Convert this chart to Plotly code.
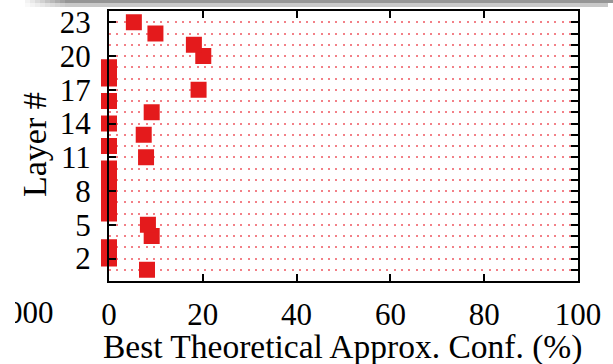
import plotly.graph_objects as go

layers = list(range(1, 24))
conf = [8.1, 0, 0, 9.1, 8.3, 0, 0, 0, 0, 0, 7.9, 0, 7.4, 0, 9.1, 0,
        19.1, 0, 0, 20.1, 18.1, 9.9, 5.3]
x_ticks = [0, 20, 40, 60, 80, 100]
y_label_ticks = [2, 5, 8, 11, 14, 17, 20, 23]
x_title = "Best Theoretical Approx. Conf. (%)"
y_title = "Layer #"
stray_label = "000"

W, H = 613, 364
FONT = "Liberation Serif"
RED = "#e41a1c"

def px_x(p):
    return p / W

def px_y(p):
    return 1 - p / H

fig = go.Figure()
fig.add_trace(go.Scatter(
    x=conf, y=layers, mode="markers", cliponaxis=False,
    marker=dict(symbol="square", size=16, color=RED, line=dict(width=0)),
    xaxis="x", yaxis="y", showlegend=False, hoverinfo="skip"))
# invisible trace to activate the right-hand overlay axis
fig.add_trace(go.Scatter(x=[None], y=[None], xaxis="x", yaxis="y2",
                         showlegend=False, hoverinfo="skip"))
# clipped stray tick label at the far left
fig.add_trace(go.Scatter(x=[0.70], y=[0.5], mode="text", text=[stray_label],
                         textposition="middle left", cliponaxis=True,
                         textfont=dict(family=FONT, size=31, color="black"),
                         xaxis="x3", yaxis="y3", showlegend=False, hoverinfo="skip"))

xd = [px_x(109), px_x(578)]
yd = [px_y(281), px_y(11)]

fig.update_layout(
    width=W, height=H, margin=dict(l=0, r=0, t=0, b=0, autoexpand=False),
    paper_bgcolor="white", plot_bgcolor="white",
    font=dict(family=FONT, color="black"),
    xaxis=dict(domain=xd, range=[0, 100], tickvals=x_ticks, ticks="inside",
               ticklen=7, tickwidth=1.5, tickcolor="black", showline=True,
               linecolor="black", linewidth=2, mirror="ticks", showgrid=False,
               zeroline=False, tickfont=dict(size=31), ticklabelstandoff=5,
               anchor="y", automargin=False),
    yaxis=dict(domain=yd, range=[0, 24], tickvals=y_label_ticks, ticks="inside",
               ticklen=7, tickwidth=1.5, tickcolor="black", showline=True,
               linecolor="black", linewidth=2, showgrid=False, zeroline=False,
               tickfont=dict(size=31), ticklabelstandoff=10, anchor="x",
               automargin=False),
    yaxis2=dict(domain=yd, range=[0, 24], overlaying="y", side="right",
                tickvals=layers, ticks="inside", ticklen=7, tickwidth=1.5,
                tickcolor="black", showticklabels=False, showline=True,
                linecolor="black", linewidth=2, showgrid=True,
                gridcolor="rgba(235,60,70,0.65)", gridwidth=1.5,
                griddash="2px,5.3px", zeroline=False, anchor="x",
                automargin=False),
    xaxis3=dict(domain=[px_x(15), px_x(70)], range=[0, 1], visible=False,
                fixedrange=True, anchor="y3"),
    yaxis3=dict(domain=[px_y(340), px_y(290)], range=[0, 1], visible=False,
                fixedrange=True, anchor="x3"),
    annotations=[
        dict(text=x_title, xref="paper", yref="paper", x=px_x(342), y=px_y(347),
             showarrow=False, font=dict(size=33.5), xanchor="center", yanchor="middle"),
        dict(text=y_title, xref="paper", yref="paper", x=px_x(35), y=px_y(145),
             showarrow=False, font=dict(size=34), textangle=-90,
             xanchor="center", yanchor="middle"),
    ],
)

# top grey screenshot band with a soft left fade
shapes = []
steps = 8
for i in range(steps):
    x0 = 25 + i * 5
    a = (i + 1) / (steps + 1)
    shapes.append(dict(type="rect", xref="paper", yref="paper",
                       x0=px_x(x0), x1=px_x(x0 + 5), y0=px_y(3), y1=1,
                       fillcolor=f"rgba(150,150,150,{a:.2f})", line=dict(width=0),
                       layer="above"))
    shapes.append(dict(type="rect", xref="paper", yref="paper",
                       x0=px_x(x0), x1=px_x(x0 + 5), y0=px_y(7), y1=px_y(3),
                       fillcolor=f"rgba(200,200,200,{a:.2f})", line=dict(width=0),
                       layer="above"))
shapes.append(dict(type="rect", xref="paper", yref="paper", x0=px_x(65), x1=1,
                   y0=px_y(3), y1=1, fillcolor="rgb(150,150,150)",
                   line=dict(width=0), layer="above"))
shapes.append(dict(type="rect", xref="paper", yref="paper", x0=px_x(65), x1=px_x(608),
                   y0=px_y(7), y1=px_y(3), fillcolor="rgb(200,200,200)",
                   line=dict(width=0), layer="above"))
fig.update_layout(shapes=shapes)

fig.write_html(
    "out.html",
    config={"displayModeBar": False},
    post_script="document.body.style.margin='0';document.body.style.overflow='hidden';",
)
